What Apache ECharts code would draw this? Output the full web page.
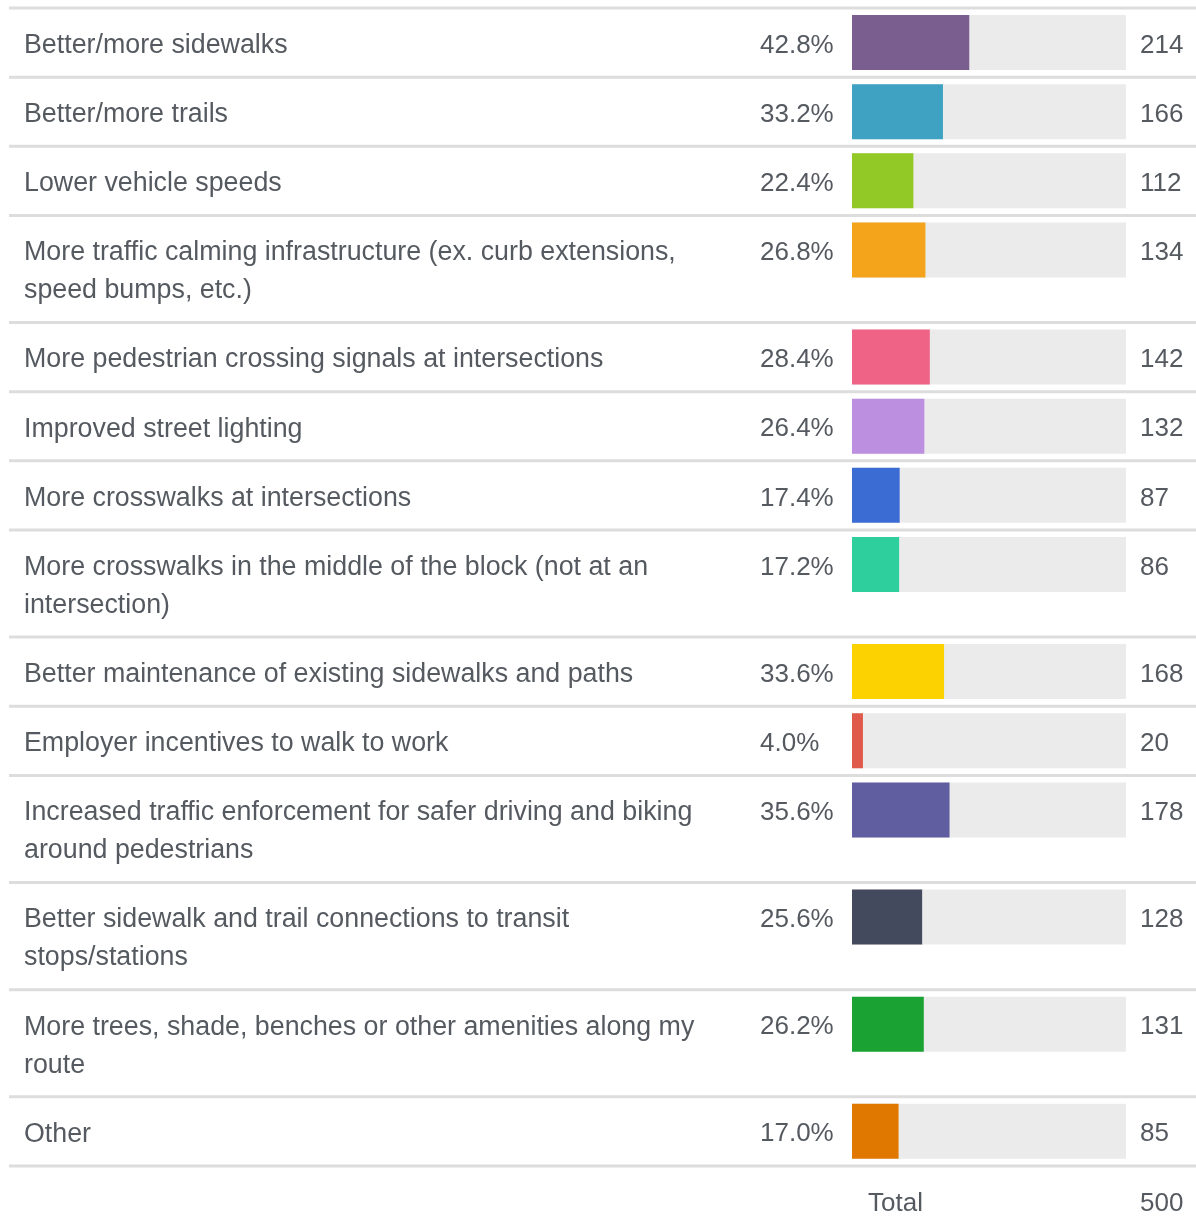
<!DOCTYPE html>
<html><head><meta charset="utf-8">
<script src="https://cdn.jsdelivr.net/npm/echarts@6/dist/echarts.min.js"></script>
<style>html,body{margin:0;padding:0;background:#fff}#chart{width:1196px;height:1216px}</style>
</head><body><div id="chart"></div>
<script>
// ---- data ----
const categories = [
  'Better/more sidewalks',
  'Better/more trails',
  'Lower vehicle speeds',
  'More traffic calming infrastructure (ex. curb extensions, speed bumps, etc.)',
  'More pedestrian crossing signals at intersections',
  'Improved street lighting',
  'More crosswalks at intersections',
  'More crosswalks in the middle of the block (not at an intersection)',
  'Better maintenance of existing sidewalks and paths',
  'Employer incentives to walk to work',
  'Increased traffic enforcement for safer driving and biking around pedestrians',
  'Better sidewalk and trail connections to transit stops/stations',
  'More trees, shade, benches or other amenities along my route',
  'Other'
];
const percents = [42.8, 33.2, 22.4, 26.8, 28.4, 26.4, 17.4, 17.2, 33.6, 4.0, 35.6, 25.6, 26.2, 17.0];
const counts = [214, 166, 112, 134, 142, 132, 87, 86, 168, 20, 178, 128, 131, 85];
const totalLabel = 'Total';
const totalRespondents = 500;

// ---- styles / layout ----
const colors = ['#7b5e90','#3fa2c3','#93c926','#f4a41b','#ef6386','#bd8fe0','#3b6cd4','#2ecf9d','#fcd300','#e05a4b','#605ea0','#444a5d','#1aa333','#e07800'];
const FONT_FAMILY = '"Liberation Sans", Arial, sans-serif';
const FONT_SIZE = 26;
const CAT_FONT_SIZE = 26.8;
const TEXT_COLOR = '#555a60';
const TRACK_COLOR = '#ebebeb';
const SEP_COLOR = '#dddddd';
const labelX = 24, barLeft = 852, barWidth = 274, pctX = 760, countX = 1140;
const wrapW = 700, lineH = 38, firstSep = 8, rowBase = 31.14, barOffset = 7, barH = 55, textDy = 3;

const ctx = document.createElement('canvas').getContext('2d');
ctx.font = CAT_FONT_SIZE + 'px ' + FONT_FAMILY;
function wrapText(text) {
  const words = text.split(' ');
  const out = [];
  let cur = '';
  words.forEach(w => {
    const test = cur ? cur + ' ' + w : w;
    if (ctx.measureText(test).width > wrapW && cur) { out.push(cur); cur = w; } else { cur = test; }
  });
  out.push(cur);
  return out;
}
function sepLine(y) {
  return { type: 'line', silent: true, shape: { x1: 9, y1: y, x2: 1196, y2: y },
           style: { stroke: SEP_COLOR, lineWidth: 3 } };
}
const textStyle = { color: TEXT_COLOR, fontSize: FONT_SIZE, fontFamily: FONT_FAMILY };

const grids = [], xAxes = [], yAxes = [], series = [], graphics = [];
let y = firstSep;
categories.forEach((cat, i) => {
  const lines = wrapText(cat);
  const h = rowBase + lineH * lines.length;
  graphics.push(sepLine(y));
  grids.push({ left: barLeft, width: barWidth, top: y + barOffset, height: barH });
  xAxes.push({ gridIndex: i, type: 'value', min: 0, max: 100, show: false });
  yAxes.push({ gridIndex: i, type: 'category', data: [cat], show: false });
  series.push({ type: 'bar', xAxisIndex: i, yAxisIndex: i, data: [100], barWidth: '100%', barGap: '-100%',
    silent: true, itemStyle: { color: TRACK_COLOR },
    label: Object.assign({}, textStyle, { show: true, position: [labelX - barLeft, barH / 2 - lineH / 2 + textDy], align: 'left', verticalAlign: 'top',
      formatter: () => lines.join('\n'), lineHeight: lineH, fontSize: CAT_FONT_SIZE }) });
  series.push({ type: 'bar', xAxisIndex: i, yAxisIndex: i, data: [percents[i]], barWidth: '100%', barGap: '-100%',
    silent: true, itemStyle: { color: colors[i] },
    label: Object.assign({ show: true, position: [pctX - barLeft, barH / 2 + textDy], align: 'left', verticalAlign: 'middle',
      formatter: () => '{p|' + percents[i].toFixed(1) + '%}{c|' + counts[i] + '}',
      rich: { p: Object.assign({ width: countX - pctX, align: 'left' }, textStyle), c: Object.assign({ align: 'left' }, textStyle) } }, textStyle) });
  y += h;
});
graphics.push(sepLine(y));
graphics.push({ type: 'text', silent: true, x: 868, y: y + 38,
  style: { text: totalLabel, fill: TEXT_COLOR, font: FONT_SIZE + 'px ' + FONT_FAMILY, verticalAlign: 'middle', align: 'left' } });
graphics.push({ type: 'text', silent: true, x: countX, y: y + 38,
  style: { text: String(totalRespondents), fill: TEXT_COLOR, font: FONT_SIZE + 'px ' + FONT_FAMILY, verticalAlign: 'middle', align: 'left' } });

const chart = echarts.init(document.getElementById('chart'), null, { renderer: 'canvas' });
chart.setOption({
  animation: false,
  backgroundColor: '#ffffff',
  grid: grids, xAxis: xAxes, yAxis: yAxes, series: series, graphic: graphics
});
</script></body></html>
